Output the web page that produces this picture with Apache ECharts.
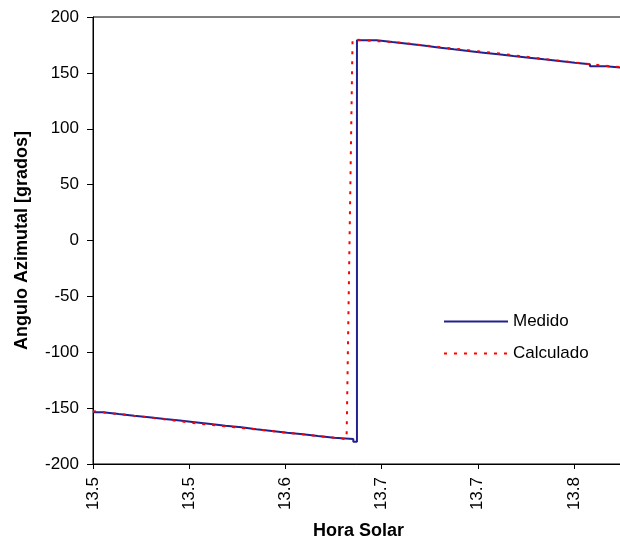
<!DOCTYPE html>
<html>
<head>
<meta charset="utf-8">
<script src="https://cdn.jsdelivr.net/npm/echarts@6/dist/echarts.min.js"></script>
<style>
  html, body { margin: 0; padding: 0; background: #fff; }
  #chart { width: 620px; height: 545px; }
</style>
</head>
<body>
<div id="chart"></div>
<script>
// Tick labels of the solar-time axis (one decimal, as printed)
const horaTicks = ['13.5', '13.5', '13.6', '13.7', '13.7', '13.8'];

// Measured azimuth: time (h) at which each encoder level begins, and the level (deg)
const medidoHora = [
  13.5000, 13.5052, 13.5134, 13.5213, 13.5291, 13.5373, 13.5451, 13.5529,
  13.5612, 13.5688, 13.5771, 13.5849, 13.5930, 13.6010, 13.6091, 13.6169,
  13.6253, 13.6353, 13.6372,
  13.6475, 13.6556, 13.6636, 13.6717, 13.6795, 13.6876, 13.6951, 13.7029,
  13.7107, 13.7185, 13.7266, 13.7344, 13.7424, 13.7505, 13.7583, 13.7666,
  13.7760
];
const medidoGrados = [
  -153.7, -155.3, -156.8, -158.2, -159.7, -161.1, -162.6, -164.2,
  -165.7, -167.2, -168.9, -170.5, -172.0, -173.4, -174.9, -176.5,
  -177.6, -180.0, 179.2,
  177.6, 176.1, 174.5, 172.8, 171.1, 169.6, 168.1, 166.6,
  165.1, 163.6, 162.1, 160.6, 159.1, 157.7, 155.9, 154.4,
  154.4
];

// Calculated azimuth (deg) against solar time (h)
const calculadoHora = [
  13.5000, 13.5296, 13.5556, 13.5816, 13.6076, 13.6318,
  13.6349, 13.6596, 13.6856, 13.7115, 13.7375, 13.7635, 13.7760
];
const calculadoGrados = [
  -152.8, -158.4, -164.0, -168.5, -173.2, -177.8,
  179.9, 177.0, 172.0, 167.3, 161.8, 156.8, 154.8
];

const pairs = (xs, ys) => xs.map((x, i) => [x, ys[i]]);

const chart = echarts.init(document.getElementById('chart'), null, { renderer: 'canvas' });

const axisFont = { fontFamily: 'Liberation Sans, Arial, sans-serif', fontSize: 17, color: '#000' };
const titleFont = { fontFamily: 'Liberation Sans, Arial, sans-serif', fontSize: 18, fontWeight: 'bold', color: '#000' };

chart.setOption({
  animation: false,
  backgroundColor: '#fff',
  grid: {
    left: 93, top: 17, width: 531, height: 447,
    show: true, borderColor: '#000', borderWidth: 1,
    containLabel: false, outerBoundsMode: 'none'
  },
  legend: {
    data: ['Medido', 'Calculado'],
    orient: 'vertical',
    left: 443, top: 313,
    padding: 0,
    itemWidth: 64, itemHeight: 15, itemGap: 15,
    itemStyle: { opacity: 0 },
    textStyle: Object.assign({}, axisFont),
    selectedMode: false
  },
  xAxis: {
    type: 'value',
    min: 13.5, max: 13.776, interval: 0.05,
    name: 'Hora Solar',
    nameLocation: 'middle',
    nameGap: 58,
    nameTextStyle: titleFont,
    axisLine: { show: true, onZero: false, lineStyle: { color: '#000', width: 1 } },
    axisTick: { show: true, inside: false, length: 5, lineStyle: { color: '#000' } },
    axisLabel: Object.assign({
      rotate: 90, margin: 13, showMaxLabel: false,
      formatter: v => {
        const k = Math.round((v - 13.5) / 0.05);
        return Math.abs(v - (13.5 + k * 0.05)) < 1e-6 && horaTicks[k] ? horaTicks[k] : '';
      }
    }, axisFont),
    splitLine: { show: false }
  },
  yAxis: {
    type: 'value',
    min: -200, max: 200, interval: 50,
    name: 'Angulo Azimutal [grados]',
    nameLocation: 'middle',
    nameGap: 62,
    nameTextStyle: titleFont,
    axisLine: { show: true, onZero: false, lineStyle: { color: '#000', width: 1 } },
    axisTick: { show: true, inside: false, length: 6, lineStyle: { color: '#000' } },
    axisLabel: Object.assign({ margin: 14 }, axisFont),
    splitLine: { show: false }
  },
  series: [
    {
      name: 'Medido',
      type: 'line',
      step: 'end',
      symbol: 'none',
      data: pairs(medidoHora, medidoGrados),
      lineStyle: { color: '#22228f', width: 2 },
      itemStyle: { color: '#22228f' },
      z: 2
    },
    {
      name: 'Calculado',
      type: 'line',
      symbol: 'none',
      data: pairs(calculadoHora, calculadoGrados),
      lineStyle: { color: '#ff0000', width: 2, type: [3, 7] },
      itemStyle: { color: '#ff0000' },
      z: 3
    }
  ]
});
</script>
</body>
</html>
